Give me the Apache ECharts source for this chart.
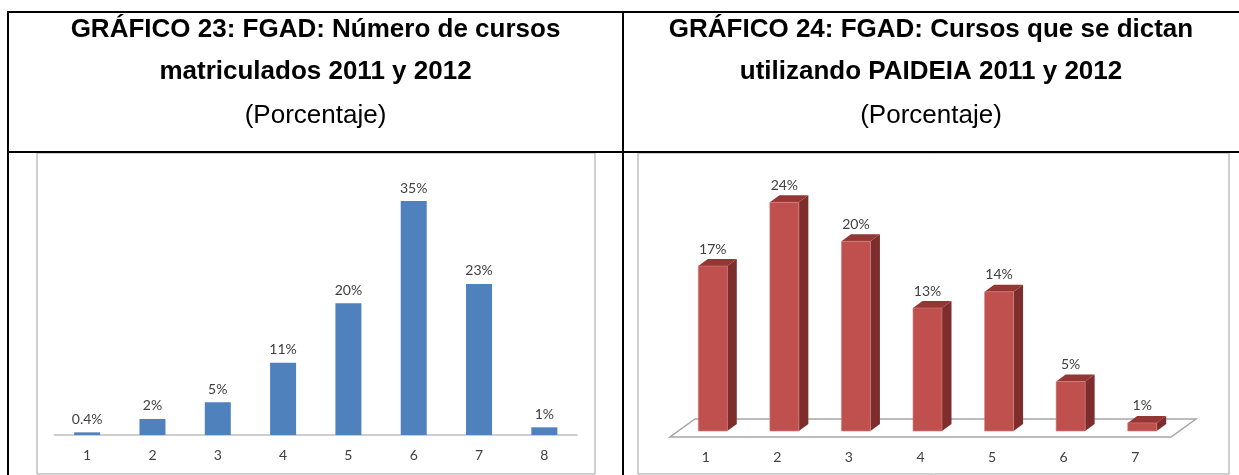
<!DOCTYPE html>
<html>
<head>
<meta charset="utf-8">
<script src="https://cdn.jsdelivr.net/npm/echarts@6/dist/echarts.min.js"></script>
<style>
  html, body { margin: 0; padding: 0; background: #fff; }
  #main { width: 1239px; height: 475px; }
</style>
</head>
<body>
<div id="main"></div>
<script>
// Gráfico 23 - cursos matriculados
var catsL = ['1', '2', '3', '4', '5', '6', '7', '8'];
var valsL = [0.4, 2.4, 4.9, 10.8, 19.7, 35, 22.6, 1.15];
var labelsL = ['0.4%', '2%', '5%', '11%', '20%', '35%', '23%', '1%'];

// Gráfico 24 - cursos con PAIDEIA
var catsR = ['1', '2', '3', '4', '5', '6', '7'];
var valsR = [17.3, 24, 19.9, 12.9, 14.6, 5.2, 0.85];
var labelsR = ['17%', '24%', '20%', '13%', '14%', '5%', '1%'];

var titleL = ['GRÁFICO 23: FGAD: Número de cursos', 'matriculados 2011 y 2012', '(Porcentaje)'];
var titleR = ['GRÁFICO 24: FGAD: Cursos que se dictan', 'utilizando PAIDEIA 2011 y 2012', '(Porcentaje)'];

var dom = document.getElementById('main');
var myChart = echarts.init(dom);

var labelFont = 'Lato';
var labelColor = '#404040';

function titleText(lines, cx) {
  var ys = [29.5, 71.5, 116];
  return lines.map(function (t, i) {
    return {
      type: 'text',
      x: cx, y: ys[i],
      style: {
        text: t,
        fill: '#000',
        font: (i < 2 ? 'bold ' : '') + '26px "Liberation Sans", Arial, sans-serif',
        align: 'center',
        verticalAlign: 'middle'
      }
    };
  });
}

// floor of the 3d chart
function renderFloor(params, api) {
  var cs = params.coordSys;
  var y0 = cs.y + cs.height, x0 = cs.x, x1 = cs.x + cs.width;
  var dx = 25, dy = -18;
  return {
    type: 'polygon',
    shape: { points: [[x0, y0], [x1, y0], [x1 + dx, y0 + dy], [x0 + dx, y0 + dy]] },
    style: { fill: '#fff', stroke: '#a6a6a6', lineWidth: 1.5 }
  };
}

function renderBar3D(params, api) {
  var base = api.coord([api.value(0), 0]);
  var top = api.coord([api.value(0), api.value(1)]);
  var left = base[0] - 7.5, w = 29, dx = 9.5, dy = -7, lift = 6;
  var yb = base[1] - lift, yt = top[1] - lift;
  return {
    type: 'group',
    children: [
      {
        type: 'polygon',
        shape: { points: [[left + w, yb], [left + w + dx, yb + dy], [left + w + dx, yt + dy], [left + w, yt]] },
        style: { fill: '#7d2e2c' }
      },
      {
        type: 'polygon',
        shape: { points: [[left, yt], [left + w, yt], [left + w + dx, yt + dy], [left + dx, yt + dy]] },
        style: { fill: '#933634' }
      },
      {
        type: 'rect',
        shape: { x: left, y: yt, width: w, height: yb - yt },
        style: { fill: '#C0504D', stroke: '#d3827f', lineWidth: 0.6 }
      },
      {
        type: 'text',
        x: left + w / 2, y: yt - 17,
        style: {
          text: labelsR[params.dataIndex],
          fill: labelColor,
          font: '14px ' + labelFont,
          align: 'center',
          verticalAlign: 'middle'
        }
      }
    ]
  };
}

var graphics = [];
// chart frames
graphics.push({ type: 'rect', shape: { x: 37, y: 153, width: 558, height: 321 }, style: { fill: '#fff', stroke: '#a0a0a0', lineWidth: 1 }, z: -10 });
graphics.push({ type: 'rect', shape: { x: 638, y: 153, width: 591, height: 321 }, style: { fill: '#fff', stroke: '#a0a0a0', lineWidth: 1 }, z: -10 });
// table borders
graphics.push({ type: 'line', shape: { x1: 7, y1: 12, x2: 1239, y2: 12 }, style: { stroke: '#000', lineWidth: 2 } });
graphics.push({ type: 'line', shape: { x1: 7, y1: 152, x2: 1239, y2: 152 }, style: { stroke: '#000', lineWidth: 2 } });
graphics.push({ type: 'line', shape: { x1: 8, y1: 11, x2: 8, y2: 475 }, style: { stroke: '#000', lineWidth: 2 } });
graphics.push({ type: 'line', shape: { x1: 623, y1: 11, x2: 623, y2: 475 }, style: { stroke: '#000', lineWidth: 2 } });
graphics = graphics.concat(titleText(titleL, 315.5), titleText(titleR, 931));

option = {
  backgroundColor: '#fff',
  animation: false,
  graphic: graphics,
  grid: [
    { left: 54.5, width: 522.5, top: 167.6, bottom: 40 },
    { left: 670, width: 501, top: 151, bottom: 38 }
  ],
  xAxis: [
    {
      gridIndex: 0, type: 'category', data: catsL,
      axisLine: { lineStyle: { color: '#bfbfbf', width: 1.5 } },
      axisTick: { show: false },
      axisLabel: { color: labelColor, fontFamily: labelFont, fontSize: 14, margin: 13 }
    },
    {
      gridIndex: 1, type: 'category', data: catsR,
      axisLine: { show: false },
      axisTick: { show: false },
      axisLabel: { color: labelColor, fontFamily: labelFont, fontSize: 14, margin: 13 }
    }
  ],
  yAxis: [
    { gridIndex: 0, type: 'value', min: 0, max: 40, show: false, splitLine: { show: false } },
    { gridIndex: 1, type: 'value', min: 0, max: 30, show: false, splitLine: { show: false } }
  ],
  series: [
    {
      name: 'Cursos matriculados',
      type: 'bar',
      xAxisIndex: 0, yAxisIndex: 0,
      data: valsL,
      barWidth: 26,
      itemStyle: { color: '#4F81BD' },
      label: {
        show: true, position: 'top', distance: 6,
        color: labelColor, fontFamily: labelFont, fontSize: 14,
        formatter: function (p) { return labelsL[p.dataIndex]; }
      }
    },
    {
      name: 'piso',
      type: 'custom',
      xAxisIndex: 1, yAxisIndex: 1,
      renderItem: renderFloor,
      data: [[0, 0]],
      z: 1,
      silent: true
    },
    {
      name: 'Cursos PAIDEIA',
      type: 'custom',
      xAxisIndex: 1, yAxisIndex: 1,
      renderItem: renderBar3D,
      data: catsR.map(function (c, i) { return [i, valsR[i]]; }),
      z: 2
    }
  ]
};

if (option && typeof option === "object") {
  myChart.setOption(option, true);
}
</script>
</body>
</html>
